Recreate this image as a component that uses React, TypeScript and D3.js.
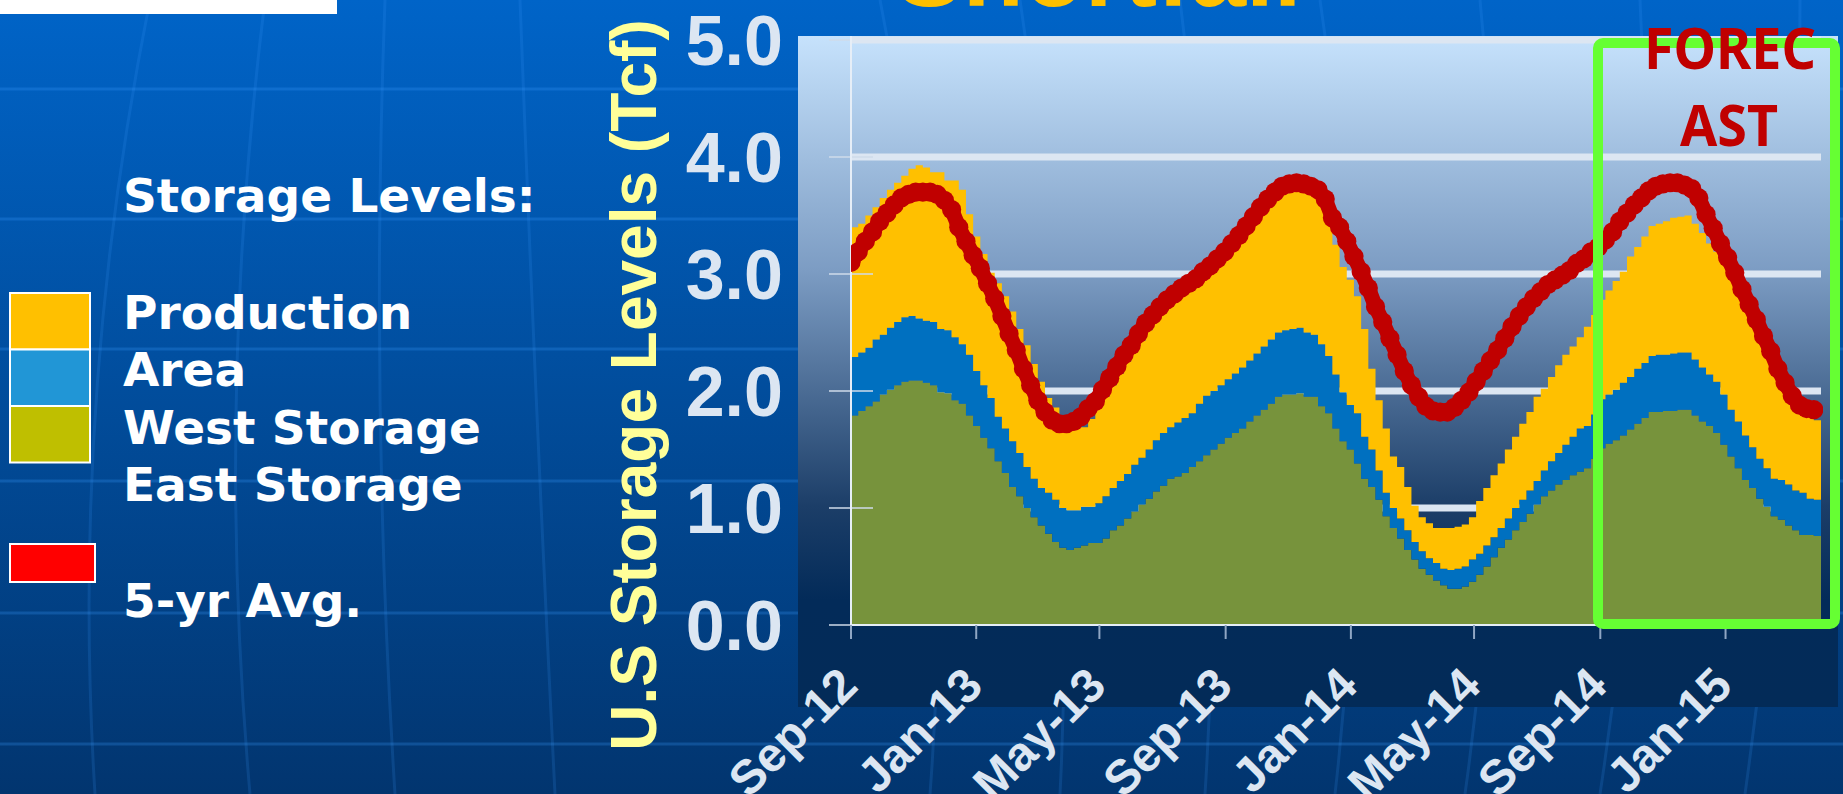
import * as d3 from "d3";

// weekly storage readings, Tcf, starting the first week of Sep 2012
const startDate = new Date(2012, 8, 1);

const eastStorage = [
  1.79, 1.83, 1.87, 1.91, 1.97, 2.01, 2.05, 2.08, 2.09, 2.09, 2.07, 2.05, 1.99, 1.98, 1.92, 1.89, 1.79, 1.70, 1.60, 1.51,
  1.40, 1.30, 1.18, 1.10, 1.00, 0.92, 0.85, 0.78, 0.71, 0.66, 0.64, 0.66, 0.68, 0.70, 0.70, 0.74, 0.81, 0.85, 0.91, 0.97,
  1.03, 1.08, 1.14, 1.19, 1.25, 1.27, 1.30, 1.35, 1.40, 1.45, 1.50, 1.55, 1.60, 1.64, 1.68, 1.74, 1.79, 1.84, 1.89, 1.95,
  1.97, 1.97, 1.98, 1.95, 1.95, 1.87, 1.81, 1.68, 1.57, 1.50, 1.38, 1.25, 1.18, 1.07, 0.93, 0.83, 0.74, 0.64, 0.56, 0.48,
  0.43, 0.38, 0.34, 0.31, 0.31, 0.33, 0.37, 0.43, 0.50, 0.58, 0.66, 0.73, 0.81, 0.88, 0.95, 1.03, 1.10, 1.15, 1.20, 1.24,
  1.28, 1.31, 1.34, 1.42, 1.51, 1.55, 1.58, 1.62, 1.67, 1.72, 1.77, 1.82, 1.82, 1.83, 1.83, 1.84, 1.84, 1.79, 1.74, 1.70,
  1.64, 1.54, 1.44, 1.34, 1.24, 1.17, 1.08, 1.01, 0.93, 0.90, 0.85, 0.81, 0.77, 0.77, 0.76,
];

const westStorage = [
  0.50, 0.50, 0.50, 0.53, 0.51, 0.53, 0.54, 0.55, 0.55, 0.53, 0.53, 0.54, 0.54, 0.54, 0.54, 0.51, 0.52, 0.47, 0.45, 0.43,
  0.38, 0.38, 0.39, 0.37, 0.35, 0.33, 0.32, 0.35, 0.36, 0.34, 0.34, 0.32, 0.33, 0.31, 0.34, 0.36, 0.36, 0.38, 0.38, 0.40,
  0.40, 0.42, 0.44, 0.45, 0.44, 0.46, 0.47, 0.46, 0.49, 0.51, 0.50, 0.50, 0.50, 0.51, 0.52, 0.52, 0.53, 0.54, 0.55, 0.55,
  0.55, 0.56, 0.56, 0.55, 0.53, 0.53, 0.49, 0.46, 0.42, 0.38, 0.43, 0.36, 0.32, 0.25, 0.20, 0.17, 0.17, 0.17, 0.15, 0.15,
  0.14, 0.15, 0.14, 0.16, 0.17, 0.17, 0.19, 0.18, 0.18, 0.17, 0.17, 0.18, 0.19, 0.19, 0.20, 0.20, 0.22, 0.25, 0.27, 0.30,
  0.33, 0.37, 0.36, 0.38, 0.42, 0.42, 0.43, 0.45, 0.45, 0.47, 0.47, 0.48, 0.49, 0.48, 0.49, 0.49, 0.49, 0.48, 0.46, 0.44,
  0.44, 0.43, 0.40, 0.40, 0.38, 0.35, 0.34, 0.33, 0.32, 0.34, 0.35, 0.34, 0.36, 0.31, 0.31,
];

const productionStorage = [
  1.11, 1.10, 1.13, 1.13, 1.17, 1.18, 1.19, 1.21, 1.26, 1.31, 1.31, 1.28, 1.34, 1.28, 1.34, 1.32, 1.20, 1.15, 1.12, 1.07,
  1.14, 1.13, 1.11, 1.06, 1.04, 0.98, 0.91, 0.81, 0.79, 0.78, 0.74, 0.71, 0.68, 0.75, 0.82, 0.85, 0.88, 0.92, 0.96, 0.97,
  1.00, 1.02, 1.02, 1.03, 1.04, 1.05, 1.06, 1.06, 1.02, 1.01, 1.02, 1.03, 1.04, 1.06, 1.08, 1.10, 1.12, 1.14, 1.15, 1.14,
  1.17, 1.18, 1.18, 1.22, 1.22, 1.26, 1.27, 1.11, 1.07, 1.07, 1.00, 0.92, 0.69, 0.60, 0.55, 0.44, 0.44, 0.37, 0.31, 0.29,
  0.30, 0.30, 0.35, 0.36, 0.36, 0.36, 0.36, 0.45, 0.49, 0.53, 0.55, 0.59, 0.61, 0.65, 0.67, 0.72, 0.70, 0.72, 0.75, 0.77,
  0.77, 0.78, 0.85, 0.85, 0.85, 0.89, 0.93, 0.95, 1.03, 1.04, 1.08, 1.11, 1.12, 1.14, 1.16, 1.16, 1.17, 1.16, 1.15, 1.12,
  1.11, 1.21, 1.23, 1.21, 1.19, 1.16, 1.13, 1.07, 1.03, 0.90, 0.82, 0.76, 0.70, 0.70, 0.68,
];

const fiveYearAvg = [
  3.10, 3.19, 3.28, 3.36, 3.45, 3.52, 3.59, 3.65, 3.68, 3.70, 3.70, 3.70, 3.68, 3.63, 3.55, 3.40, 3.28, 3.16, 3.05, 2.92,
  2.79, 2.64, 2.49, 2.35, 2.19, 2.05, 1.92, 1.82, 1.75, 1.72, 1.72, 1.74, 1.78, 1.85, 1.91, 2.01, 2.11, 2.21, 2.31, 2.39,
  2.49, 2.58, 2.65, 2.72, 2.78, 2.83, 2.88, 2.92, 2.96, 3.02, 3.07, 3.13, 3.19, 3.26, 3.33, 3.41, 3.49, 3.57, 3.64, 3.70,
  3.75, 3.77, 3.78, 3.77, 3.75, 3.72, 3.64, 3.48, 3.40, 3.28, 3.15, 3.02, 2.88, 2.72, 2.59, 2.45, 2.31, 2.17, 2.05, 1.95,
  1.87, 1.83, 1.82, 1.82, 1.86, 1.92, 1.99, 2.08, 2.17, 2.26, 2.35, 2.45, 2.55, 2.64, 2.72, 2.79, 2.85, 2.91, 2.95, 2.99,
  3.03, 3.09, 3.13, 3.19, 3.23, 3.29, 3.36, 3.45, 3.52, 3.59, 3.65, 3.71, 3.75, 3.77, 3.78, 3.78, 3.76, 3.73, 3.65, 3.51,
  3.39, 3.26, 3.14, 3.01, 2.87, 2.74, 2.61, 2.47, 2.34, 2.19, 2.07, 1.96, 1.88, 1.85, 1.84,
];

const yTicks = [0, 1, 2, 3, 4, 5];
const legendLabels = ["Production", "Area", "West Storage", "East Storage"];
const legendColors = ["#ffc000", "#2196d6", "#bfbf00"];
const layerKeys = ["east", "west", "production"];
const layerColors: Record<string, string> = { east: "#77933c", west: "#0070c0", production: "#ffc000" };

type Row = { date: Date; east: number; west: number; production: number; avg: number };

const rows: Row[] = eastStorage.map((e, i) => ({
  date: d3.timeDay.offset(startDate, 7 * i),
  east: e,
  west: westStorage[i],
  production: productionStorage[i],
  avg: fiveYearAvg[i],
}));
const endDate = d3.timeDay.offset(startDate, 7 * rows.length);

export default function App() {
  const width = 1843;
  const height = 794;
  const plot = { left: 851, right: 1821, top: 40, bottom: 625 };

  const x = d3.scaleTime().domain([startDate, endDate]).range([plot.left, plot.right]);
  const y = d3.scaleLinear().domain([0, 5]).range([plot.bottom, plot.top]);

  // last step runs on to the end of the axis
  const stepRows = [...rows, { ...rows[rows.length - 1], date: endDate }];
  const stacked = d3.stack<Row>().keys(layerKeys)(stepRows);
  const area = d3
    .area<d3.SeriesPoint<Row>>()
    .x((d) => x(d.data.date))
    .y0((d) => y(d[0]))
    .y1((d) => y(d[1]))
    .curve(d3.curveStepAfter);
  const avgLine = d3.line<Row>().x((d) => x(d.date)).y((d) => y(d.avg));

  const xTicks = x.ticks(d3.timeMonth.every(4)!);
  const fmt = d3.timeFormat("%b-%y");

  const hLines = [89, 219, 349, 481, 613, 744];
  const meridians = [
    "M95 794 Q70 400 150 0",
    "M250 794 Q215 400 265 0",
    "M395 794 Q370 400 385 0",
    "M555 794 Q535 400 520 0",
    "M930 794 Q960 400 880 0",
    "M1060 794 Q1080 400 1020 0",
    "M1205 794 Q1230 400 1180 0",
    "M1335 794 Q1380 400 1320 0",
    "M1465 794 Q1520 400 1480 0",
    "M1600 794 Q1660 400 1640 0",
    "M1745 794 Q1800 400 1800 0",
  ];

  const font = "'Liberation Sans', Arial, Helvetica, sans-serif";
  const legendFont = "'DejaVu Sans', Verdana, sans-serif";
  const forecastFont = "'Noto Sans', 'Open Sans', 'Liberation Sans', sans-serif";

  return (
    <svg
      width={width}
      height={height}
      viewBox={`0 0 ${width} ${height}`}
      style={{ position: "absolute", left: 0, top: 0, display: "block" }}
    >
      <defs>
        <linearGradient id="bg" x1="0" y1="0" x2="0" y2="1">
          <stop offset="0" stopColor="#0064c8" />
          <stop offset="1" stopColor="#02356f" />
        </linearGradient>
        <linearGradient id="panel" gradientUnits="userSpaceOnUse" x1="0" y1="36" x2="0" y2="707">
          <stop offset="0" stopColor="#c6e2fc" />
          <stop offset="0.35" stopColor="#7c9cc3" />
          <stop offset="0.70" stopColor="#1c3e68" />
          <stop offset="0.84" stopColor="#032b59" />
          <stop offset="1" stopColor="#032b58" />
        </linearGradient>
        <clipPath id="plotClip">
          <rect x={plot.left} y={0} width={plot.right - plot.left + 2} height={height} />
        </clipPath>
      </defs>

      <rect width={width} height={height} fill="url(#bg)" />
      {hLines.map((hy) => (
        <line key={hy} x1={0} x2={width} y1={hy} y2={hy} stroke="#3d9bff" strokeOpacity={0.25} strokeWidth={3} />
      ))}
      {meridians.map((d) => (
        <path key={d} d={d} fill="none" stroke="#3d9bff" strokeOpacity={0.16} strokeWidth={3} />
      ))}
      <rect x={0} y={0} width={337} height={14} fill="#ffffff" />

      <text x={896} y={6} fontFamily={font} fontWeight="bold" fontSize={100} fill="#ffc000">Shortfall</text>

      {/* legend */}
      <text x={123} y={212} fontFamily={legendFont} fontWeight="bold" fontSize={47} fill="#ffffff">Storage Levels:</text>
      {legendLabels.map((label, i) => (
        <text key={label} x={123} y={329 + i * 57.4} fontFamily={legendFont} fontWeight="bold" fontSize={47} fill="#ffffff">{label}</text>
      ))}
      {legendColors.map((c, i) => (
        <rect key={c} x={10} y={293 + i * 56.5} width={80} height={56.5} fill={c} stroke="#ffffff" strokeWidth={2} />
      ))}
      <rect x={10} y={544} width={85} height={38} fill="#ff0000" stroke="#ffffff" strokeWidth={2} />
      <text x={123} y={617} fontFamily={legendFont} fontWeight="bold" fontSize={47} fill="#ffffff">5-yr Avg.</text>

      {/* chart panel */}
      <rect x={798} y={36} width={1040} height={671} fill="url(#panel)" />

      {yTicks.slice(1).map((t) => (
        <line key={t} x1={plot.left} x2={plot.right} y1={y(t)} y2={y(t)} stroke="#dce6f2" strokeWidth={7} />
      ))}

      {stacked.map((s) => (
        <path key={s.key} d={area(s) ?? ""} fill={layerColors[s.key]} />
      ))}

      {yTicks.map((t) => (
        <line key={t} x1={829} x2={t === 0 || t === 5 ? plot.left : 873} y1={y(t)} y2={y(t)} stroke="#cfdbea" strokeOpacity={0.75} strokeWidth={2} />
      ))}
      <line x1={plot.left} x2={plot.left} y1={36} y2={plot.bottom} stroke="#e6eef7" strokeWidth={2} />
      <line x1={plot.left} x2={plot.right} y1={plot.bottom} y2={plot.bottom} stroke="#e6eef7" strokeWidth={2} />
      {xTicks.map((t) => (
        <line key={+t} x1={x(t)} x2={x(t)} y1={plot.bottom} y2={plot.bottom + 14} stroke="#8fa6c4" strokeWidth={2} />
      ))}

      <g clipPath="url(#plotClip)">
        <path d={avgLine(rows) ?? ""} fill="none" stroke="#c00000" strokeWidth={15} strokeLinejoin="round" strokeLinecap="round" />
        {rows.map((r) => (
          <circle key={+r.date} cx={x(r.date)} cy={y(r.avg)} r={9.6} fill="#c00000" />
        ))}
      </g>

      {yTicks.map((t) => (
        <text key={t} x={783} y={y(t) + 25} textAnchor="end" fontFamily={font} fontWeight="bold" fontSize={70} fill="#dce6f2">
          {t.toFixed(1)}
        </text>
      ))}
      {xTicks.map((t) => (
        <text
          key={+t}
          transform={`translate(${x(t) + 9},${688}) rotate(-45)`}
          textAnchor="end"
          fontFamily={font}
          fontWeight="bold"
          fontSize={48}
          fill="#dce6f2"
        >
          {fmt(t)}
        </text>
      ))}
      <text
        transform="translate(656,385) rotate(-90)"
        textAnchor="middle"
        fontFamily={font}
        fontWeight="bold"
        fontSize={64}
        fill="#ffff99"
      >
        U.S Storage Levels (Tcf)
      </text>

      {/* forecast window */}
      <rect x={1598} y={43} width={237} height={581} rx={5} fill="none" stroke="#66ff33" strokeWidth={10} />
      <text x={1730} y={69} textAnchor="middle" fontFamily={forecastFont} fontWeight="bold" fontSize={58} fill="#c00000" textLength={172} lengthAdjust="spacingAndGlyphs">FOREC</text>
      <text x={1729} y={146} textAnchor="middle" fontFamily={forecastFont} fontWeight="bold" fontSize={58} fill="#c00000" textLength={98} lengthAdjust="spacingAndGlyphs">AST</text>
    </svg>
  );
}
